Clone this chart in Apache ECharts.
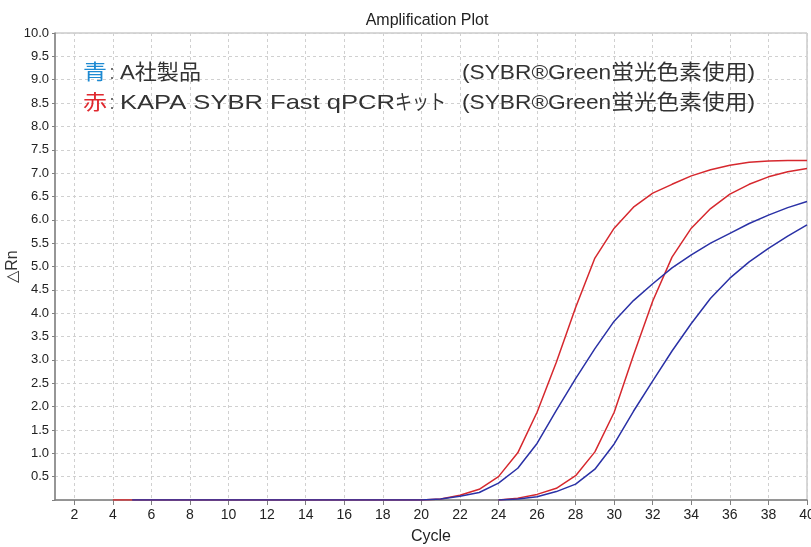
<!DOCTYPE html>
<html>
<head>
<meta charset="utf-8">
<script src="https://cdn.jsdelivr.net/npm/echarts@6/dist/echarts.min.js"></script>
<style>
html,body{margin:0;padding:0;background:#fff;}
#chart{width:811px;height:547px;}
</style>
</head>
<body>
<div id="chart"></div>
<script>
// Cycles 1..40
var cycles = [1,2,3,4,5,6,7,8,9,10,11,12,13,14,15,16,17,18,19,20,21,22,23,24,25,26,27,28,29,30,31,32,33,34,35,36,37,38,39,40];
// Red (KAPA), early sample
var redEarly = [null,null,null,0,0,0,0,0,0,0,0,0,0,0,0,0,0,0,0,0,0.02,0.1,0.23,0.5,1.01,1.88,2.95,4.12,5.18,5.82,6.27,6.57,6.76,6.94,7.07,7.17,7.23,7.26,7.27,7.27];
// Red (KAPA), late sample
var redLate = [null,null,null,null,null,null,null,null,null,null,null,null,null,null,null,null,null,null,null,null,null,null,null,0,0.04,0.12,0.25,0.52,1.03,1.88,3.1,4.26,5.2,5.82,6.24,6.55,6.76,6.92,7.03,7.1];
// Blue (A社), early sample
var blueEarly = [null,null,null,null,0,0,0,0,0,0,0,0,0,0,0,0,0,0,0,0,0.02,0.08,0.16,0.36,0.68,1.21,1.92,2.6,3.24,3.83,4.27,4.63,4.97,5.25,5.5,5.71,5.92,6.1,6.26,6.39];
// Blue (A社), late sample
var blueLate = [null,null,null,null,null,null,null,null,null,null,null,null,null,null,null,null,null,null,null,null,null,null,null,0,0.02,0.07,0.18,0.34,0.66,1.2,1.9,2.55,3.19,3.78,4.32,4.75,5.1,5.39,5.65,5.89];
// X tick labels
var xTicks = [2,4,6,8,10,12,14,16,18,20,22,24,26,28,30,32,34,36,38,40];

function pairs(vals){
  var out = [];
  for (var i = 0; i < cycles.length; i++) {
    if (vals[i] !== null) out.push([cycles[i], vals[i]]);
  }
  return out;
}

var axisFont = "'Liberation Sans',Arial,sans-serif";
var RED = '#d6282e';
var BLUE = '#2a31a6';
var LEGEND_FONT = "21px 'Liberation Sans','Noto Sans CJK JP',sans-serif";

var measureCtx = document.createElement('canvas').getContext('2d');
function fitText(str, x, y, targetWidth, fill) {
  measureCtx.font = LEGEND_FONT;
  var w = measureCtx.measureText(str).width;
  return {
    type: 'text', x: x, y: y, scaleX: targetWidth / w, z: 10,
    style: {text: str, font: LEGEND_FONT, fill: fill, align: 'left', verticalAlign: 'middle'}
  };
}

var chart = echarts.init(document.getElementById('chart'), null, {renderer:'canvas'});
chart.setOption({
  animation: false,
  backgroundColor: '#fff',
  title: {
    text: 'Amplification Plot',
    left: 422, top: 8, textAlign: 'center',
    textStyle: {fontFamily: "'Liberation Sans',Arial,sans-serif", fontSize: 16, fontWeight: 'normal', color: '#222'}
  },
  grid: {left: 55, right: 4, top: 33, bottom: 47, outerBoundsMode: 'none', containLabel: false,
         show: true, borderColor: '#b0b0b0', borderWidth: 1, backgroundColor: 'transparent'},
  xAxis: {
    type: 'value', min: 1, max: 40,
    name: 'Cycle', nameLocation: 'middle', nameGap: 29, nameMoveOverlap: false,
    nameTextStyle: {fontFamily: "'Liberation Sans',Arial,sans-serif", fontSize: 16, color: '#222'},
    axisLine: {show: true, lineStyle: {color: '#808080', width: 1.5}},
    axisTick: {show: true, customValues: xTicks, length: 5, lineStyle: {color: '#808080'}},
    axisLabel: {customValues: xTicks, margin: 8, fontFamily: axisFont, fontSize: 14, color: '#222', hideOverlap: false},
    splitLine: {show: true, lineStyle: {color: '#d0d0d0', type: [3, 3], width: 1}}
  },
  yAxis: {
    type: 'value', min: 0, max: 10, interval: 0.5,
    name: '△Rn', nameLocation: 'middle', nameGap: 34, nameMoveOverlap: false,
    nameTextStyle: {fontFamily: "'Liberation Sans',Arial,sans-serif", fontSize: 16, color: '#333'},
    axisLine: {show: true, lineStyle: {color: '#808080', width: 1.5}},
    axisTick: {show: true, length: 3, lineStyle: {color: '#808080'}},
    axisLabel: {margin: 6, fontFamily: axisFont, fontSize: 13, color: '#222',
      formatter: function(v){ return v === 0 ? '' : v.toFixed(1); }},
    splitLine: {show: true, lineStyle: {color: '#d0d0d0', type: [3, 3], width: 1}}
  },
  graphic: [
    fitText('青', 83, 73, 24, '#1e8ad2'),
    fitText(':', 110, 73, 4, '#333'),
    fitText('A社製品', 120, 73, 81, '#333'),
    fitText('(SYBR®Green蛍光色素使用)', 462, 73, 293, '#333'),
    fitText('赤', 83, 103, 24, '#e0282e'),
    fitText(':', 110, 103, 4, '#333'),
    fitText('KAPA SYBR Fast qPCR', 120, 103, 275, '#333'),
    fitText('キット', 395, 103, 51, '#333'),
    fitText('(SYBR®Green蛍光色素使用)', 462, 103, 293, '#333')
  ],
  series: [
    {type: 'line', name: 'KAPA 1', data: pairs(redEarly), showSymbol: false, lineStyle: {color: RED, width: 1.5}, itemStyle: {color: RED}},
    {type: 'line', name: 'KAPA 2', data: pairs(redLate), showSymbol: false, lineStyle: {color: RED, width: 1.5}, itemStyle: {color: RED}},
    {type: 'line', name: 'A 1', data: pairs(blueEarly), showSymbol: false, lineStyle: {color: BLUE, width: 1.5}, itemStyle: {color: BLUE}},
    {type: 'line', name: 'A 2', data: pairs(blueLate), showSymbol: false, lineStyle: {color: BLUE, width: 1.5}, itemStyle: {color: BLUE}}
  ]
});
</script>
</body>
</html>
